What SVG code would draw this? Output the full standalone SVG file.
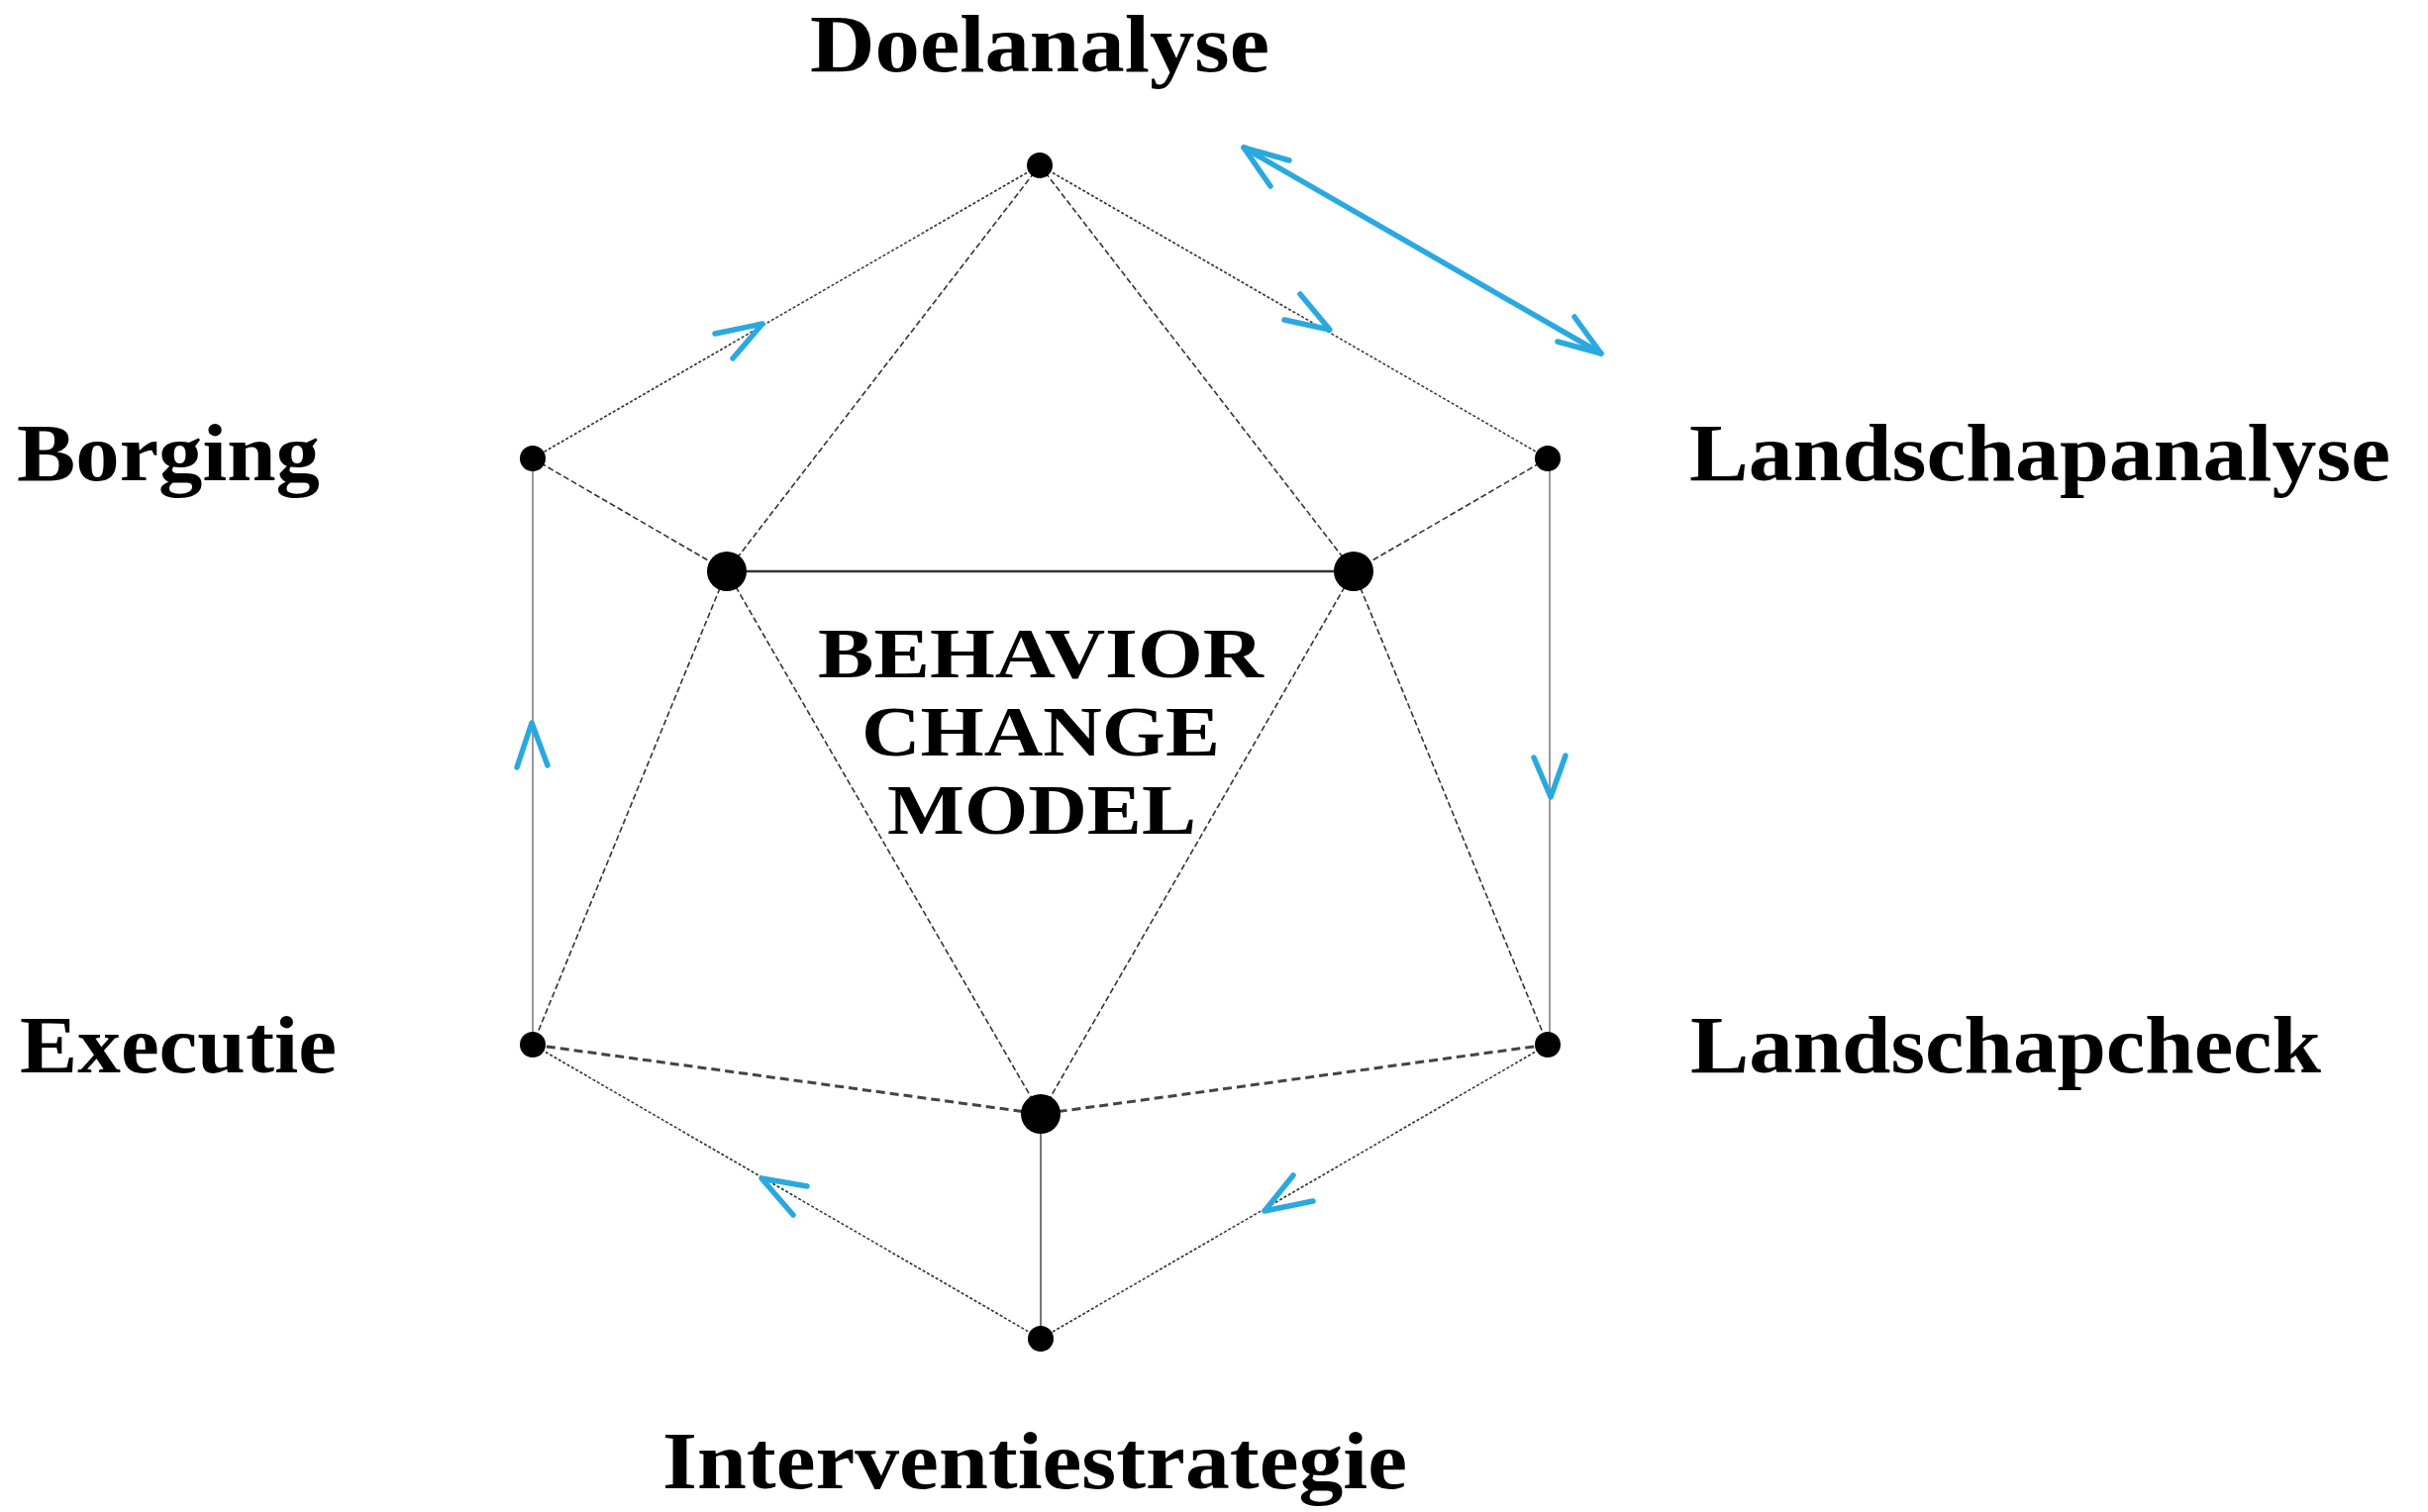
<svg xmlns="http://www.w3.org/2000/svg" width="2452" height="1527" viewBox="0 0 2452 1527">
<style>
.lbl{font-family:"Liberation Serif","Times New Roman",serif;font-weight:bold;font-size:82px;fill:#000}
.ctr{font-family:"Liberation Serif","Times New Roman",serif;font-weight:bold;font-size:71px;fill:#000}
.dot{stroke:#333;stroke-width:1.6;stroke-dasharray:3 2;fill:none}
.dash{stroke:#333;stroke-width:1.6;stroke-dasharray:6 3;fill:none}
.thick{stroke:#444;stroke-width:3;stroke-dasharray:9 5;fill:none}
.side{stroke:#9a9a9a;stroke-width:2;fill:none}
.solid{stroke:#333;stroke-width:2.5;fill:none}
.stem{stroke:#555;stroke-width:1.6;fill:none}
.blue{stroke:#29a9e0;stroke-width:5.5;stroke-linecap:round;stroke-linejoin:round;fill:none}
.n{fill:#000}
</style>
<g id="connectors">
<line class="dot" x1="1050" y1="167" x2="538" y2="463"/>
<line class="dot" x1="1050" y1="167" x2="1563" y2="463"/>
<line class="dash" x1="1050" y1="167" x2="734" y2="577"/>
<line class="dash" x1="1050" y1="167" x2="1367" y2="577"/>
<line class="dash" x1="538" y1="463" x2="734" y2="577"/>
<line class="dash" x1="1563" y1="463" x2="1367" y2="577"/>
<line class="solid" x1="734" y1="577" x2="1367" y2="577"/>
<line class="side" x1="538" y1="463" x2="538" y2="1055"/>
<line class="side" x1="1565" y1="463" x2="1565" y2="1055"/>
<line class="dash" x1="734" y1="577" x2="538" y2="1055"/>
<line class="dash" x1="734" y1="577" x2="1051" y2="1125"/>
<line class="dash" x1="1367" y1="577" x2="1051" y2="1125"/>
<line class="dash" x1="1367" y1="577" x2="1563" y2="1055"/>
<line class="thick" x1="538" y1="1055" x2="1051" y2="1125"/>
<line class="thick" x1="1563" y1="1055" x2="1051" y2="1125"/>
<line class="dot" x1="538" y1="1055" x2="1051" y2="1352"/>
<line class="dot" x1="1563" y1="1055" x2="1051" y2="1352"/>
<line class="stem" x1="1051" y1="1125" x2="1051" y2="1352"/>
<polyline class="blue" points="722,337 770,327 740,362"/>
<polyline class="blue" points="1297,323 1343,333 1313,297"/>
<polyline class="blue" points="522,775 537,730 553,773"/>
<polyline class="blue" points="1549,765 1566,805 1581,763"/>
<polyline class="blue" points="1306,1187 1277,1223 1326,1213"/>
<polyline class="blue" points="815,1198 769,1190 801,1227"/>
<line class="blue" x1="1256" y1="149" x2="1617" y2="357"/>
<polyline class="blue" points="1302,162 1256,149 1283,188"/>
<polyline class="blue" points="1573,345 1617,357 1590,320"/>
</g>
<g id="node-doelanalyse">
<circle class="n" cx="1050" cy="167" r="13"/>
<text class="lbl" x="818" y="72" textLength="464" lengthAdjust="spacingAndGlyphs">Doelanalyse</text>
</g>
<g id="node-borging">
<circle class="n" cx="538" cy="463" r="13"/>
<text class="lbl" x="17" y="485" textLength="306" lengthAdjust="spacingAndGlyphs">Borging</text>
</g>
<g id="node-landschapanalyse">
<circle class="n" cx="1563" cy="463" r="13"/>
<text class="lbl" x="1706" y="485" textLength="708" lengthAdjust="spacingAndGlyphs">Landschapanalyse</text>
</g>
<g id="node-executie">
<circle class="n" cx="538" cy="1055" r="13"/>
<text class="lbl" x="20" y="1083" textLength="320" lengthAdjust="spacingAndGlyphs">Executie</text>
</g>
<g id="node-landschapcheck">
<circle class="n" cx="1563" cy="1055" r="13"/>
<text class="lbl" x="1707" y="1083" textLength="637" lengthAdjust="spacingAndGlyphs">Landschapcheck</text>
</g>
<g id="node-interventiestrategie">
<circle class="n" cx="1051" cy="1352" r="13"/>
<text class="lbl" x="669" y="1503" textLength="752" lengthAdjust="spacingAndGlyphs">Interventiestrategie</text>
</g>
<g id="node-inner-left"><circle class="n" cx="734" cy="577" r="20"/></g>
<g id="node-inner-right"><circle class="n" cx="1367" cy="577" r="20"/></g>
<g id="node-inner-bottom"><circle class="n" cx="1051" cy="1125" r="20"/></g>
<g id="center-title">
<text class="ctr" x="826" y="684" textLength="450" lengthAdjust="spacingAndGlyphs">BEHAVIOR</text>
<text class="ctr" x="870" y="763" textLength="362" lengthAdjust="spacingAndGlyphs">CHANGE</text>
<text class="ctr" x="896" y="842" textLength="312" lengthAdjust="spacingAndGlyphs">MODEL</text>
</g>
</svg>
